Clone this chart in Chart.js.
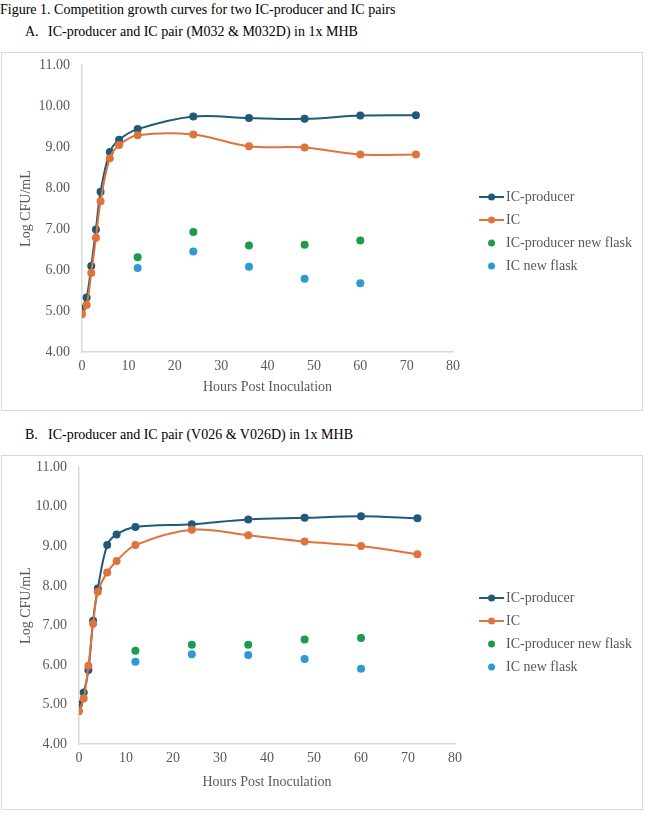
<!DOCTYPE html>
<html>
<head>
<meta charset="utf-8">
<script src="https://cdn.jsdelivr.net/npm/chart.js@4"></script>
<style>
  body { margin: 0; background: #fff; font-family: "Liberation Serif", serif; color: #000; }
  .txt { position: absolute; font-size: 14px; white-space: nowrap; }
  .box { position: absolute; left: 1px; width: 640px; border: 1px solid #d9d9d9; }
  .box canvas { display: block; }
</style>
</head>
<body>
<div class="txt" style="left:0; top:2px;">Figure 1. Competition growth curves for two IC-producer and IC pairs</div>
<div class="txt" style="left:25px; top:24px;">A.</div>
<div class="txt" style="left:48px; top:24px;">IC-producer and IC pair (M032 &amp; M032D) in 1x MHB</div>
<div class="box" style="top:52px; height:357px;"><canvas id="chartA" width="640" height="357"></canvas></div>
<div class="txt" style="left:25px; top:427px;">B.</div>
<div class="txt" style="left:48px; top:427px;">IC-producer and IC pair (V026 &amp; V026D) in 1x MHB</div>
<div class="box" style="top:455px; height:353px;"><canvas id="chartB" width="640" height="353"></canvas></div>
<script>
// horas de muestreo
var horas = [0, 1, 2, 3, 4, 6, 8, 12, 24, 36, 48, 60, 72];
var horasFlask = [12, 24, 36, 48, 60];

// Panel A (M032 & M032D)
var productorA = [5.06, 5.33, 6.10, 6.99, 7.91, 8.88, 9.18, 9.44, 9.75, 9.71, 9.69, 9.77, 9.78];
var icA = [4.92, 5.15, 5.93, 6.79, 7.68, 8.73, 9.05, 9.29, 9.31, 9.02, 8.99, 8.82, 8.82];
var productorFlaskA = [6.31, 6.93, 6.60, 6.62, 6.72];
var icFlaskA = [6.05, 6.45, 6.08, 5.79, 5.68];

// Panel B (V026 & V026D)
var productorB = [5.00, 5.30, 5.87, 7.12, 7.93, 9.03, 9.30, 9.49, 9.56, 9.68, 9.72, 9.76, 9.71];
var icB = [4.83, 5.15, 5.98, 7.04, 7.85, 8.34, 8.63, 9.03, 9.42, 9.28, 9.12, 9.01, 8.80];
var productorFlaskB = [6.36, 6.51, 6.51, 6.64, 6.68];
var icFlaskB = [6.08, 6.27, 6.25, 6.15, 5.90];

var etiquetas = ['IC-producer', 'IC', 'IC-producer new flask', 'IC new flask'];
var colores = ['#1f5a7a', '#e0733a', '#1f9a4a', '#2d9ad3'];
var yTicks = [4, 5, 6, 7, 8, 9, 10, 11];
var xTicks = [0, 10, 20, 30, 40, 50, 60, 70, 80];

var gris = '#595959';
var fuente = { family: 'Liberation Serif', size: 14 };

// icono de leyenda: linea con punto o solo punto (se dibuja a la derecha del hueco)
function iconoLeyenda(color, conLinea) {
    var c = document.createElement('canvas');
    c.width = 50; c.height = 10;
    var g = c.getContext('2d');
    if (conLinea) {
        g.strokeStyle = color; g.lineWidth = 2;
        g.beginPath(); g.moveTo(20, 5); g.lineTo(45, 5); g.stroke();
    }
    g.fillStyle = color;
    g.beginPath(); g.arc(32.5, 5, 3.5, 0, Math.PI * 2); g.fill();
    return c;
}

function puntos(xs, ys) {
    return xs.map(function (x, i) { return { x: x, y: ys[i] }; });
}

function crearGrafica(id, series, ajuste) {
    var ctx = document.getElementById(id).getContext('2d');
    var datasets = series.map(function (s, i) {
        var linea = i < 2;
        return {
            label: etiquetas[i],
            data: puntos(linea ? horas : horasFlask, s),
            borderColor: colores[i],
            backgroundColor: colores[i],
            borderWidth: 2,
            showLine: linea,
            tension: 0.35,
            pointRadius: 4,
            pointBorderWidth: 0,
            pointHoverRadius: 4,
            order: 4 - i
        };
    });
    return new Chart(ctx, {
        type: 'scatter',
        data: { datasets: datasets },
        options: {
            responsive: false,
            animation: false,
            layout: { padding: 0 },
            scales: {
                x: {
                    type: 'linear', min: 0, max: 80,
                    afterBuildTicks: function (s) { s.ticks = xTicks.map(function (v) { return { value: v }; }); },
                    afterFit: function (s) { s.height = ajuste.xHeight; },
                    grid: { display: false, drawTicks: false },
                    border: { display: true, color: '#d9d9d9', width: 1.5 },
                    ticks: { color: gris, font: fuente, padding: 6, maxRotation: 0 },
                    title: { display: true, text: 'Hours Post Inoculation', color: gris, font: fuente, padding: { top: 0, bottom: ajuste.xTitle } }
                },
                y: {
                    type: 'linear', min: 4, max: 11,
                    afterBuildTicks: function (s) { s.ticks = yTicks.map(function (v) { return { value: v }; }); },
                    afterFit: function (s) { s.width = ajuste.yWidth; },
                    grid: { display: false, drawTicks: true, tickLength: 12 - ajuste.yPad },
                    border: { display: true, color: '#d9d9d9', width: 1.5 },
                    ticks: { color: gris, font: fuente, padding: ajuste.yPad, callback: function (v) { return v.toFixed(2); } },
                    title: { display: true, text: 'Log CFU/mL', color: gris, font: fuente, padding: { top: 16, bottom: 0 } }
                },
                espacio: {
                    type: 'linear', position: 'right', display: true,
                    afterFit: function (s) { s.width = ajuste.gap; },
                    grid: { display: false, drawTicks: false },
                    border: { display: false },
                    ticks: { display: false }
                }
            },
            plugins: {
                legend: {
                    position: 'right',
                    align: 'center',
                    maxWidth: 220,
                    labels: {
                        color: gris,
                        font: fuente,
                        usePointStyle: true,
                        pointStyleWidth: 30,
                        boxHeight: 10,
                        padding: 9,
                        generateLabels: function (chart) {
                            return chart.data.datasets.map(function (d, i) {
                                return {
                                    text: d.label,
                                    fillStyle: d.backgroundColor,
                                    strokeStyle: d.borderColor,
                                    lineWidth: 0,
                                    pointStyle: iconoLeyenda(d.borderColor, i < 2),
                                    fontColor: gris,
                                    hidden: false,
                                    datasetIndex: i
                                };
                            });
                        }
                    }
                },
                tooltip: { enabled: false }
            }
        }
    });
}

crearGrafica('chartA', [productorA, icA, productorFlaskA, icFlaskA],
    { yPad: 3.8, xHeight: 58, xTitle: 14, yWidth: 80, gap: 7 });
crearGrafica('chartB', [productorB, icB, productorFlaskB, icFlaskB],
    { yPad: 2.8, xHeight: 65, xTitle: 18, yWidth: 77, gap: 5 });
</script>
</body>
</html>
